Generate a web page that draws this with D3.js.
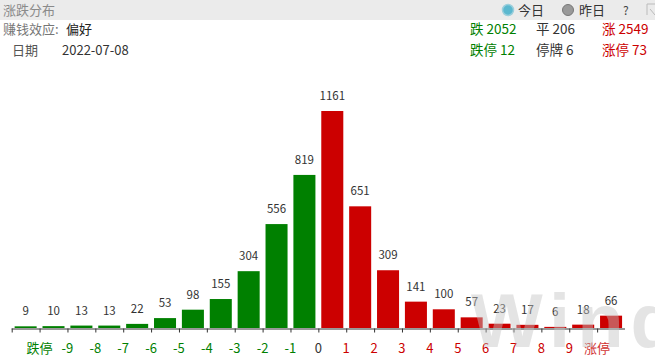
<!DOCTYPE html>
<html><head><meta charset="utf-8">
<script src="https://cdn.jsdelivr.net/npm/d3@7/dist/d3.min.js"></script>
<style>
body{margin:0;background:#fff;font-family:"Microsoft YaHei","Noto Sans CJK SC",sans-serif;}
svg{display:block}
</style></head><body>
<svg id="c" width="655" height="358"></svg>
<script>
const values = [9,10,13,13,22,53,98,155,304,556,819,1161,651,309,141,100,57,23,17,6,18,66];
const barColors = ["g","g","g","g","g","g","g","g","g","g","g","r","r","r","r","r","r","r","r","r","r","r"];
const tickLabels = ["跌停","-9","-8","-7","-6","-5","-4","-3","-2","-1","0","1","2","3","4","5","6","7","8","9","涨停"];
const labelColors = ["g","g","g","g","g","g","g","g","g","g","n","r","r","r","r","r","r","r","r","r","lr"];
const summaryTop = [["跌 2052","g"],["平 206","n"],["涨 2549","r"]];
const summaryBot = [["跌停 12","g"],["停牌 6","n"],["涨停 73","r"]];
const dateText = "2022-07-08";
const effectText = "偏好";

const C = {g:"#008000", r:"#cc0000", n:"#333333", lr:"#d03030"};
const font = '"Noto Sans CJK SC",sans-serif';
const svg = d3.select("#c");

// header band
svg.append("rect").attr("x",0).attr("y",0).attr("width",655).attr("height",20).attr("fill","#ebebeb");
svg.append("text").attr("x",3).attr("y",15).attr("font-size",13).attr("font-family",font).attr("fill","#8a8a8a").text("涨跌分布");
svg.append("circle").attr("cx",508).attr("cy",10).attr("r",5.5).attr("fill","#5bb8cf").attr("stroke","#9ccfdc").attr("stroke-width",1.5);
svg.append("text").attr("x",518).attr("y",15).attr("font-size",13).attr("font-family",font).attr("fill","#333").text("今日");
svg.append("circle").attr("cx",568).attr("cy",10).attr("r",5.5).attr("fill","#999").attr("stroke","#777").attr("stroke-width",1);
svg.append("text").attr("x",579).attr("y",15).attr("font-size",13).attr("font-family",font).attr("fill","#333").text("昨日");
svg.append("text").attr("x",623).attr("y",15).attr("font-size",12).attr("font-family",font).attr("fill","#444").text("?");
svg.append("path").attr("d","M647,4 H655 M647,4 V15 M650,9 L655,15").attr("stroke","#bbb").attr("fill","none");

// info lines
svg.append("text").attr("x",3).attr("y",34).attr("font-size",13).attr("font-family",font).attr("fill","#777").text("赚钱效应:");
svg.append("text").attr("x",66).attr("y",34).attr("font-size",13).attr("font-family",font).attr("fill","#222").text(effectText);
svg.append("text").attr("x",12).attr("y",55).attr("font-size",13).attr("font-family",font).attr("fill","#555").text("日期");
svg.append("text").attr("x",62).attr("y",55).attr("font-size",13).attr("font-family",font).attr("fill","#333").text(dateText);
const sx = [470,536,602];
summaryTop.forEach((d,i)=>svg.append("text").attr("x",sx[i]).attr("y",34).attr("font-size",13.5).attr("font-family",font).attr("fill",C[d[1]]).text(d[0]));
summaryBot.forEach((d,i)=>svg.append("text").attr("x",sx[i]).attr("y",55).attr("font-size",13.5).attr("font-family",font).attr("fill",C[d[1]]).text(d[0]));

// chart
const x0 = 11.7, x1 = 625;
const x = d3.scaleBand().domain(d3.range(values.length)).range([x0,x1]).paddingInner(0.21).paddingOuter(0.105);
const y = d3.scaleLinear().domain([0,1161]).range([328,111]);

svg.append("g").selectAll("rect").data(values).join("rect")
  .attr("x",(d,i)=>x(i)).attr("width",x.bandwidth())
  .attr("y",d=>y(d)).attr("height",d=>328-y(d))
  .attr("fill",(d,i)=>C[barColors[i]]);

svg.append("g").selectAll("text").data(values).join("text")
  .attr("x",(d,i)=>x(i)+x.bandwidth()/2).attr("y",d=>y(d)-11)
  .attr("text-anchor","middle").attr("font-size",11.5).attr("font-family",font).attr("fill","#333")
  .text(d=>d);

// axis
const tickScale = d3.scaleLinear().domain([0,values.length]).range([x0,x1]);
const ticks = d3.range(0,values.length);
const axis = d3.axisBottom(tickScale).tickValues(ticks).tickSize(4).tickFormat("");
const ag = svg.append("g").attr("transform","translate(0,328.5)").call(axis);
ag.select(".domain").attr("stroke","#333").attr("d",`M${x0},0.5H${x1}`);
ag.selectAll(".tick line").attr("stroke","#333");

svg.append("g").selectAll("text").data(tickLabels).join("text")
  .attr("x",(d,i)=>tickScale(i+1)).attr("y",352.5)
  .attr("text-anchor","middle").attr("font-size",13).attr("font-family",font)
  .attr("fill",(d,i)=>C[labelColors[i]]).text(d=>d);

// watermark
svg.append("text").attr("x",471).attr("y",347).attr("font-size",76).attr("font-weight","bold")
  .attr("font-family","Liberation Sans, Arial, sans-serif").attr("fill","rgba(195,195,195,0.45)")
  .attr("letter-spacing",7).text("Wind");
</script>
</body></html>
